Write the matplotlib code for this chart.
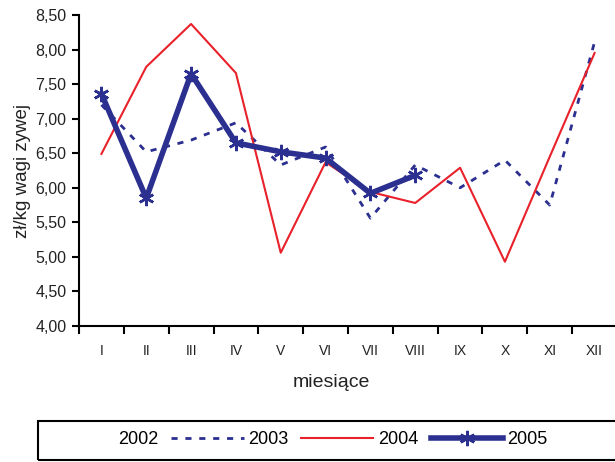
import matplotlib
matplotlib.use("Agg")
import matplotlib.pyplot as plt
from matplotlib.patches import Rectangle
from matplotlib.ticker import FuncFormatter
import numpy as np

plt.rcParams['font.family'] = ['Liberation Sans', 'DejaVu Sans']

months = ['I', 'II', 'III', 'IV', 'V', 'VI', 'VII', 'VIII', 'IX', 'X', 'XI', 'XII']
years = ['2002', '2003', '2004', '2005']

# 2002 is in the legend only, no values drawn
price_2002 = []
price_2003 = [7.20, 6.52, 6.69, 6.94, 6.33, 6.59, 5.56, 6.33, 6.00, 6.40, 5.75, 8.11]
price_2004 = [6.49, 7.75, 8.37, 7.66, 5.06, 6.37, 5.94, 5.78, 6.29, 4.93, 6.45, 7.95]
price_2005 = [7.36, 5.85, 7.65, 6.65, 6.52, 6.43, 5.92, 6.18]

NAVY = '#2b2f8f'
RED = '#e8212b'

fig = plt.figure(figsize=(6.15, 4.62), dpi=100)
ax = fig.add_axes([79 / 615, 1 - 326 / 462, 538 / 615, 311 / 462])

x = np.arange(1, 13)
h02, = ax.plot(x[:len(price_2002)], price_2002, color='white', lw=1.5)
h03, = ax.plot(x, price_2003, color=NAVY, lw=2, linestyle=(0, (2.2, 2.8)))
h04, = ax.plot(x, price_2004, color=RED, lw=1.5)
h05, = ax.plot(x[:len(price_2005)], price_2005, color=NAVY, lw=4,
               marker=(6, 2, 0), markersize=11, markeredgewidth=1.8)

ax.set_xlim(0.5, 12.5)
ax.set_ylim(4.0, 8.5)
ax.set_yticks(np.arange(4.0, 8.51, 0.5))
ax.yaxis.set_major_formatter(FuncFormatter(lambda v, p: f'{v:.2f}'.replace('.', ',')))
ax.set_xticks(x)
ax.set_xticklabels(months)
ax.set_xticks(np.arange(0.5, 12.6, 1), minor=True)
ax.tick_params(axis='x', which='major', length=0, pad=13, labelsize=10, colors='#222222')
ax.tick_params(axis='x', which='minor', length=6, width=1.5, direction='out')
ax.tick_params(axis='y', length=5, width=1.5, pad=4, labelsize=11.5, colors='#222222')
ax.tick_params(axis='both', color='black')

for side in ['top', 'right']:
    ax.spines[side].set_visible(False)
for side in ['left', 'bottom']:
    ax.spines[side].set_linewidth(1.5)

ax.set_xlabel('miesiące', fontsize=14, color='#222222')
ax.xaxis.set_label_coords(0.47, -0.155)
ax.set_ylabel('zł/kg wagi zywej', fontsize=13.5, color='#222222')
ax.yaxis.set_label_coords(-0.09, 0.5)

# legend box
fig.patches.append(Rectangle((38 / 615, 1 - 460 / 462), 1.0, 39 / 462,
                             transform=fig.transFigure, fill=False,
                             edgecolor='black', lw=1.5))
fig.legend([h02, h03, h04, h05], years, loc='center left',
           bbox_to_anchor=(40 / 615, 1 - 440 / 462), ncol=4, frameon=False,
           fontsize=13, handlelength=4.0, handletextpad=0.25,
           columnspacing=0.7, borderaxespad=0, borderpad=0.1)

plt.savefig('out.png', dpi=100)
